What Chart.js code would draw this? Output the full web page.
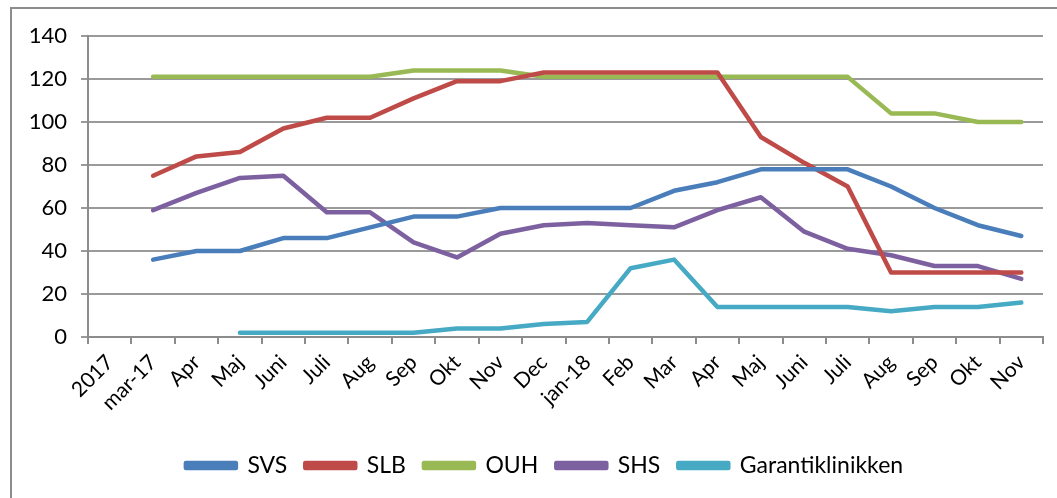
<!DOCTYPE html>
<html>
<head>
<meta charset="utf-8">
<script src="https://cdn.jsdelivr.net/npm/chart.js@4"></script>
<style>
  html, body { margin: 0; padding: 0; background: #fff; overflow: hidden; }
  #frame { position: absolute; left: 10px; top: 7px; width: 1200px; height: 700px; border: 2px solid #8c8c8c; }
  #wrap { position: absolute; left: 0; top: 0; width: 1057px; height: 498px; }
</style>
</head>
<body>
<div id="frame"></div>
<div id="wrap"><canvas id="chart"></canvas></div>
<script>
// month labels on the x axis
const months = ['2017', 'mar-17', 'Apr', 'Maj', 'Juni', 'Juli', 'Aug', 'Sep', 'Okt', 'Nov', 'Dec',
  'jan-18', 'Feb', 'Mar', 'Apr', 'Maj', 'Juni', 'Juli', 'Aug', 'Sep', 'Okt', 'Nov'];

const svs = [null, 36, 40, 40, 46, 46, 51, 56, 56, 60, 60, 60, 60, 68, 72, 78, 78, 78, 70, 60, 52, 47];
const slb = [null, 75, 84, 86, 97, 102, 102, 111, 119, 119, 123, 123, 123, 123, 123, 93, 81, 70, 30, 30, 30, 30];
const ouh = [null, 121, 121, 121, 121, 121, 121, 124, 124, 124, 121, 121, 121, 121, 121, 121, 121, 121, 104, 104, 100, 100];
const shs = [null, 59, 67, 74, 75, 58, 58, 44, 37, 48, 52, 53, 52, 51, 59, 65, 49, 41, 38, 33, 33, 27];
const garanti = [null, null, null, 2, 2, 2, 2, 2, 4, 4, 6, 7, 32, 36, 14, 14, 14, 14, 12, 14, 14, 16];

const yTicks = [0, 20, 40, 60, 80, 100, 120, 140];

const line = (label, data, color) => ({
  label: label,
  data: data,
  borderColor: color,
  backgroundColor: color,
  borderWidth: 4.5,
  borderCapStyle: 'round',
  borderJoinStyle: 'round',
  pointRadius: 0,
  pointHoverRadius: 0,
  tension: 0,
  fill: false,
});

// legend in the original sits a bit right of the canvas centre
const legendShift = {
  id: 'legendShift',
  afterLayout(chart) {
    chart.legend.left += 17;
    chart.legend.right += 17;
  },
};

const ctx = document.getElementById('chart').getContext('2d');
new Chart(ctx, {
  type: 'line',
  data: {
    labels: months,
    datasets: [
      line('SVS', svs, '#4A7EBB'),
      line('SLB', slb, '#BE4B48'),
      line('OUH', ouh, '#98B954'),
      line('SHS', shs, '#7D60A0'),
      line('Garantiklinikken', garanti, '#46AAC5'),
    ],
  },
  plugins: [legendShift],
  options: {
    responsive: true,
    maintainAspectRatio: false,
    animation: false,
    layout: { padding: { left: 12, right: 14, top: 36, bottom: 11 } },
    plugins: {
      tooltip: { enabled: false },
      legend: {
        position: 'bottom',
        labels: {
          font: { family: 'Lato', size: 23 },
          color: '#000',
          boxWidth: 50,
          boxHeight: 5,
          padding: 18,
        },
      },
    },
    scales: {
      x: {
        offset: true,
        afterFit: (s) => { s.height = 99; },
        grid: { offset: true, drawOnChartArea: false, drawTicks: true, tickLength: 7, color: '#8c8c8c', lineWidth: 2 },
        border: { display: true, color: '#8c8c8c', width: 2 },
        ticks: {
          autoSkip: false,
          minRotation: 45,
          maxRotation: 45,
          padding: 6,
          color: '#000',
          font: { family: 'Lato', size: 21 },
        },
      },
      y: {
        min: 0,
        max: 140,
        afterFit: (s) => { s.width = 76; },
        afterBuildTicks: (s) => { s.ticks = yTicks.map((v) => ({ value: v })); },
        grid: { color: '#9a9a9a', lineWidth: 2, tickLength: 7 },
        border: { display: true, color: '#8c8c8c', width: 2 },
        ticks: {
          padding: 14,
          color: '#000',
          font: { family: 'Lato', size: 22 },
        },
      },
    },
  },
});
</script>
</body>
</html>
